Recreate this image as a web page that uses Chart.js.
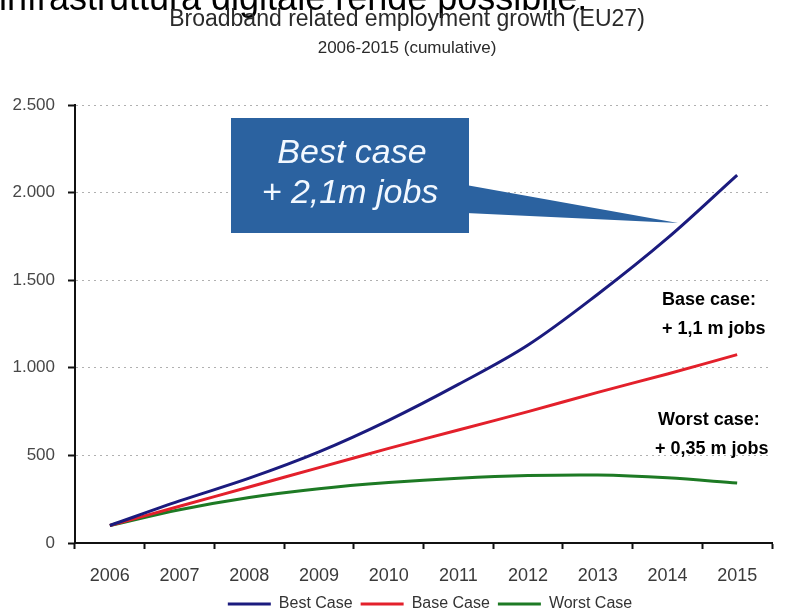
<!DOCTYPE html>
<html>
<head>
<meta charset="utf-8">
<script src="https://cdn.jsdelivr.net/npm/chart.js@4/dist/chart.umd.min.js"></script>
<style>
  html, body { margin: 0; padding: 0; background: #fff; }
  #wrap { width: 812px; height: 613px; }
</style>
</head>
<body>
<div id="wrap"><canvas id="growth_chart" width="812" height="613"></canvas></div>
<script>
// years on the x axis
var years = ['2006', '2007', '2008', '2009', '2010', '2011', '2012', '2013', '2014', '2015'];
// cumulative jobs (thousands)
var bestCase = [100, 240, 370, 520, 700, 905, 1130, 1420, 1740, 2100];
var baseCase = [100, 210, 320, 430, 540, 645, 750, 860, 965, 1075];
var worstCase = [100, 190, 260, 310, 345, 370, 385, 388, 372, 342];
var yTicks = [0, 500, 1000, 1500, 2000, 2500];
var seriesNames = ['Best Case', 'Base Case', 'Worst Case'];

var FONT = '"Liberation Sans", Arial, sans-serif';
var PLOT_BOTTOM = 543;

// texts drawn on top of the chart
var overlay = {
    id: 'overlay',
    afterLayout: function (chart) {
        // legend sits a bit right of where chart.js centres it
        var lg = chart.legend;
        lg.left += 44; lg.right += 44;
        lg.top -= 3; lg.bottom -= 3;
    },
    afterDraw: function (chart) {
        var ctx = chart.ctx;
        ctx.save();
        // cut off heading of the slide
        ctx.fillStyle = '#000';
        ctx.font = '36px ' + FONT;
        ctx.textAlign = 'left';
        ctx.textBaseline = 'alphabetic';
        ctx.fillText('infrastruttura digitale rende possibile.', -1, 10);

        // titles
        ctx.fillStyle = '#2a2a2a';
        ctx.textAlign = 'center';
        ctx.font = '23px ' + FONT;
        ctx.fillText('Broadband related employment growth (EU27)', 407, 26);
        ctx.font = '17px ' + FONT;
        ctx.fillText('2006-2015 (cumulative)', 407, 53);

        // callout box
        ctx.fillStyle = '#2b62a0';
        ctx.fillRect(231, 118, 238, 115);
        ctx.beginPath();
        ctx.moveTo(466, 185);
        ctx.lineTo(678, 223);
        ctx.lineTo(466, 213);
        ctx.closePath();
        ctx.fill();
        ctx.fillStyle = '#f2f8ff';
        ctx.font = 'italic 34px ' + FONT;
        ctx.fillText('Best case', 352, 163);
        ctx.fillText('+ 2,1m jobs', 350, 203);

        // side notes
        ctx.fillStyle = '#000';
        ctx.textAlign = 'left';
        ctx.font = 'bold 18px ' + FONT;
        ctx.fillText('Base case:', 662, 305);
        ctx.fillText('+ 1,1 m jobs', 662, 334);
        ctx.fillText('Worst case:', 658, 425);
        ctx.fillText('+ 0,35 m jobs', 655, 454);
        ctx.restore();
    }
};

new Chart(document.getElementById('growth_chart'), {
    type: 'line',
    data: {
        labels: years,
        datasets: [{
            label: seriesNames[0],
            data: bestCase,
            borderColor: '#1b1b7e',
            backgroundColor: '#1b1b7e',
            borderWidth: 3
        }, {
            label: seriesNames[1],
            data: baseCase,
            borderColor: '#e3202b',
            backgroundColor: '#e3202b',
            borderWidth: 3
        }, {
            label: seriesNames[2],
            data: worstCase,
            borderColor: '#1d7a24',
            backgroundColor: '#1d7a24',
            borderWidth: 3
        }]
    },
    options: {
        responsive: false,
        animation: false,
        layout: {padding: {top: 105, right: 40, left: 0, bottom: 0}},
        elements: {
            line: {tension: 0.35, fill: false},
            point: {radius: 0, hoverRadius: 0}
        },
        plugins: {
            tooltip: {enabled: false},
            title: {display: false},
            legend: {
                position: 'bottom',
                maxHeight: 22,
                labels: {
                    usePointStyle: true,
                    pointStyle: 'line',
                    pointStyleWidth: 43,
                    boxWidth: 43,
                    padding: 8,
                    color: '#333',
                    font: {family: FONT, size: 16}
                }
            }
        },
        scales: {
            x: {
                offset: true,
                grid: {
                    offset: true,
                    drawOnChartArea: false,
                    tickLength: 6,
                    tickColor: '#111',
                    tickWidth: 2
                },
                border: {color: '#111', width: 2},
                ticks: {
                    color: '#3a3a3a',
                    padding: 16,
                    maxRotation: 0,
                    font: {family: FONT, size: 18}
                },
                afterFit: function (scale) {
                    scale.height = 613 - PLOT_BOTTOM - scale.chart.legend.height;
                }
            },
            y: {
                min: 0,
                max: 2500,
                afterBuildTicks: function (scale) {
                    scale.ticks = yTicks.map(function (v) { return {value: v}; });
                },
                grid: {
                    color: '#b0b0b0',
                    lineWidth: 1,
                    tickLength: 7,
                    tickColor: '#111',
                    tickWidth: 2
                },
                border: {color: '#111', width: 2, dash: [2, 4]},
                ticks: {
                    color: '#474747',
                    padding: 13,
                    font: {family: FONT, size: 17},
                    callback: function (v) {
                        return String(v).replace(/\B(?=(\d{3})+(?!\d))/g, '.');
                    }
                },
                afterFit: function (scale) { scale.width = 75; }
            }
        }
    },
    plugins: [overlay]
});
</script>
</body>
</html>
